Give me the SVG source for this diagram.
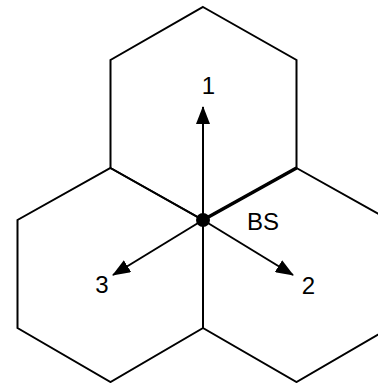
<svg xmlns="http://www.w3.org/2000/svg" width="378" height="383" viewBox="0 0 378 383">
<style>
.hex{fill:none;stroke:#000;stroke-width:2;stroke-linejoin:miter}
.arr{fill:none;stroke:#000;stroke-width:2}
.lbl{font-family:"Liberation Sans",Arial,sans-serif;font-size:24px;fill:#000}
</style>
<defs>
<marker id="ah" markerWidth="18" markerHeight="14" refX="17" refY="7" orient="auto" markerUnits="userSpaceOnUse">
<path d="M0,0 L18,7 L0,14 Z" fill="#000"/>
</marker>
</defs>
<rect width="378" height="383" fill="#fff"/>
<g id="cell-top"><path class="hex" d="M203,7 L296.5,60 L296.5,168 L203,220 L110.5,168 L110.5,60 Z"/></g>
<g id="cell-left"><path class="hex" d="M110.5,168 L203,220 L203,328 L110.5,382 L17.5,328 L17.5,220 Z"/></g>
<g id="cell-right"><path class="hex" d="M296.5,168 L389.5,220 L389.5,328 L296.5,382 L203,328 L203,220 Z"/></g>
<g id="sector-boundary"><line x1="203" y1="220" x2="296.5" y2="168" stroke="#000" stroke-width="3.5"/></g>
<g id="connectors">
<line class="arr" x1="203" y1="220" x2="203" y2="107" marker-end="url(#ah)"/>
<line class="arr" x1="203" y1="220" x2="293" y2="275" marker-end="url(#ah)"/>
<line class="arr" x1="203" y1="220" x2="113" y2="275" marker-end="url(#ah)"/>
</g>
<g id="bs"><circle cx="203" cy="220" r="7" fill="#000"/><text class="lbl" x="247" y="230">BS</text></g>
<g id="labels">
<text class="lbl" x="208.5" y="94" text-anchor="middle">1</text>
<text class="lbl" x="308.5" y="294" text-anchor="middle">2</text>
<text class="lbl" x="102" y="293" text-anchor="middle">3</text>
</g>
</svg>
